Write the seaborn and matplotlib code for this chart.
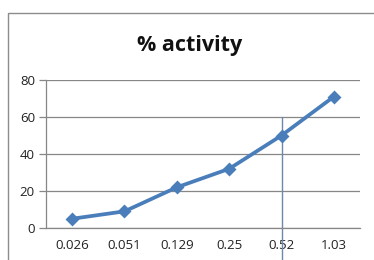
import matplotlib
matplotlib.use("Agg")
import matplotlib.pyplot as plt
import seaborn as sns
from matplotlib.patches import Rectangle
from matplotlib.ticker import FixedLocator

# data
concentrations = ["0.026", "0.051", "0.129", "0.25", "0.52", "1.03"]
activity = [5, 9, 22, 32, 50, 71]
y_ticks = [0, 20, 40, 60, 80]
title = "% activity"

line_blue = "#4a7ebb"
grid_grey = "#878787"

sns.set_style("white")
plt.rcParams["font.family"] = ["Open Sans", "DejaVu Sans"]

fig = plt.figure(figsize=(3.74, 2.60), dpi=100)
ax = fig.add_axes([46 / 374, 32 / 260, 314 / 374, 148 / 260])

sns.pointplot(x=concentrations, y=activity, color=line_blue, markers="D",
              markersize=5.5, linewidth=2.7, ax=ax)

ax.set_xlim(-0.5, len(concentrations) - 0.5)
ax.set_ylim(0, 80)
ax.set_yticks(y_ticks)
ax.yaxis.grid(True, color=grid_grey, linewidth=0.9)
ax.set_axisbelow(True)

# category boundary tick marks like Excel
ax.xaxis.set_minor_locator(FixedLocator([i - 0.5 for i in range(len(concentrations) + 1)]))
ax.tick_params(axis="x", which="major", length=0, labelsize=9.5, pad=8, colors="#222222")
ax.tick_params(axis="x", which="minor", length=5, width=0.9, color=grid_grey, direction="out")
ax.tick_params(axis="y", which="major", length=5, width=0.9, color=grid_grey,
               labelsize=9.5, pad=3, left=True)
ax.tick_params(axis="y", colors=grid_grey, labelcolor="#222222")

for side in ["top", "right"]:
    ax.spines[side].set_visible(False)
for side in ["left", "bottom"]:
    ax.spines[side].set_color(grid_grey)
    ax.spines[side].set_linewidth(0.9)

# vertical marker line at 0.52 reaching below the axis
ax.axvline(concentrations.index("0.52"), ymin=-0.22, ymax=60 / 80, color="#6f88a8",
           linewidth=1.0, clip_on=False, zorder=1)

ax.set_xlabel("")
ax.set_ylabel("")

fig.text(190 / 374, 1 - 45 / 260, title, ha="center", va="center",
         fontsize=15.5, fontweight="bold", color="#111111")

# chart area border
fig.patches.append(Rectangle((8 / 374, -0.1), 1.0, 1 - 13 / 260 + 0.1,
                             transform=fig.transFigure, fill=False,
                             edgecolor="#8c8c8c", linewidth=1.0))

fig.savefig("out.png", dpi=100)
